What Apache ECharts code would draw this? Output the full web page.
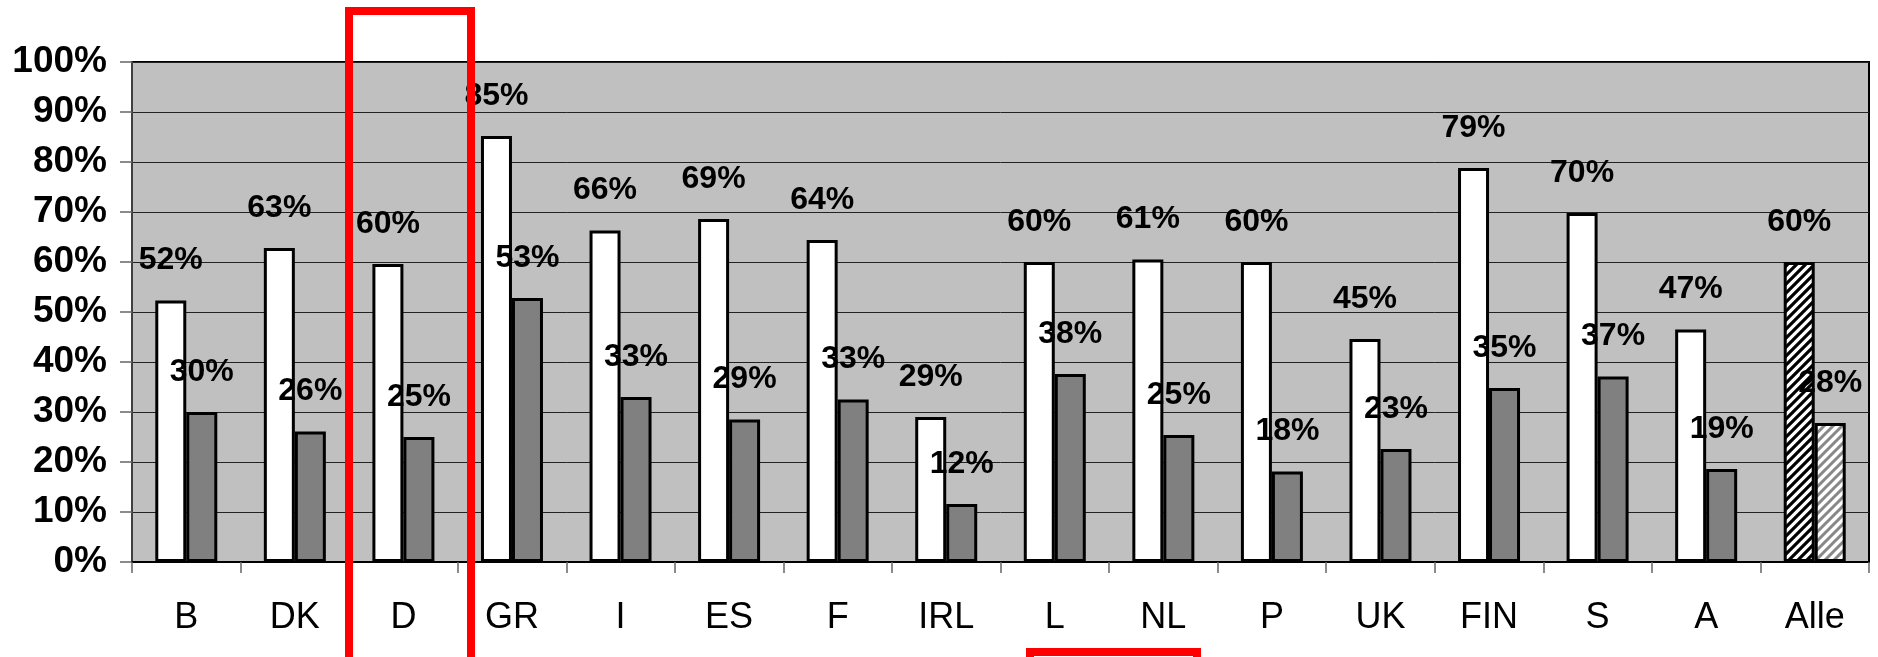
<!DOCTYPE html>
<html>
<head>
<meta charset="utf-8">
<script src="https://cdn.jsdelivr.net/npm/echarts@6/dist/echarts.min.js"></script>
<style>
html,body{margin:0;padding:0;background:#fff;}
#chart{width:1878px;height:657px;}
</style>
</head>
<body>
<div id="chart"></div>
<script>
// Data
var categories = ['B','DK','D','GR','I','ES','F','IRL','L','NL','P','UK','FIN','S','A','Alle'];
var seriesA = [52.3, 62.8, 59.6, 85.2, 66.3, 68.6, 64.4, 29.0, 60.0, 60.5, 60.0, 44.6, 78.8, 69.8, 46.5, 60.0];
var seriesB = [30.0, 26.1, 25.0, 52.8, 33.0, 28.5, 32.5, 11.6, 37.6, 25.4, 18.1, 22.6, 34.8, 37.1, 18.6, 27.8];
var yTicks = [0,10,20,30,40,50,60,70,80,90,100];

function hatch(color, bg, lw) {
  var c = document.createElement('canvas');
  var s = 9;
  c.width = s; c.height = s;
  var g = c.getContext('2d');
  g.fillStyle = bg; g.fillRect(0,0,s,s);
  g.strokeStyle = color; g.lineWidth = lw;
  g.beginPath();
  g.moveTo(-1, s+1); g.lineTo(s+1, -1);
  g.moveTo(-s/2-1, s/2+1); g.lineTo(s/2+1, -s/2-1);
  g.moveTo(s/2-1, s+s/2+1); g.lineTo(s+s/2+1, s/2-1);
  g.stroke();
  return {image: c, repeat: 'repeat'};
}
var hatchBlack = hatch('#000000', '#ffffff', 3.2);
var hatchGray = hatch('#888888', '#ffffff', 3);

var lastIdx = categories.length - 1;
var dataA = seriesA.map(function(v, i){
  return i === lastIdx ? {value: v, itemStyle: {color: hatchBlack}} : v;
});
var dataB = seriesB.map(function(v, i){
  return i === lastIdx ? {value: v, itemStyle: {color: hatchGray}} : v;
});

var FONT = '"Liberation Sans", Arial, sans-serif';
var labelCfg = {
  show: true, position: 'top', distance: 24,
  fontFamily: FONT, fontSize: 32, fontWeight: 'bold', color: '#000',
  formatter: function(p){ return Math.round(p.value) + '%'; }
};

var chart = echarts.init(document.getElementById('chart'), null, {renderer: 'canvas'});
chart.setOption({
  animation: false,
  backgroundColor: '#ffffff',
  grid: {
    left: 132, right: 9, top: 62, bottom: 95,
    show: true, backgroundColor: '#C0C0C0', borderColor: '#000', borderWidth: 2,
    containLabel: false
  },
  xAxis: {
    type: 'category',
    data: categories,
    axisLine: {lineStyle: {color: '#000', width: 2}},
    axisTick: {show: true, length: 11, lineStyle: {color: '#666', width: 1.5}},
    axisLabel: {fontFamily: FONT, fontSize: 36, color: '#000', margin: 38},
    boundaryGap: true
  },
  yAxis: {
    type: 'value', min: 0, max: 100, interval: 10,
    axisLine: {show: true, lineStyle: {color: '#555', width: 1.5}},
    axisTick: {show: true, length: 12, lineStyle: {color: '#666', width: 1.5}},
    axisLabel: {
      fontFamily: FONT, fontSize: 37, fontWeight: 'bold', color: '#000', margin: 25,
      formatter: function(v){ return yTicks.indexOf(v) >= 0 ? v + '%' : ''; }
    },
    splitLine: {show: true, lineStyle: {color: '#222', width: 1}}
  },
  series: [
    {
      type: 'bar', name: 'A', data: dataA, barWidth: 31, barGap: '0%',
      itemStyle: {color: '#ffffff', borderColor: '#000', borderWidth: 3},
      label: labelCfg
    },
    {
      type: 'bar', name: 'B', data: dataB, barWidth: 31, barGap: '0%',
      itemStyle: {color: '#808080', borderColor: '#000', borderWidth: 3},
      label: labelCfg
    }
  ],
  graphic: [
    {type: 'rect', z: 100, shape: {x: 349, y: 11, width: 122, height: 720},
     style: {fill: null, stroke: '#ff0000', lineWidth: 8}},
    {type: 'rect', z: 100, shape: {x: 1030, y: 652, width: 167, height: 60},
     style: {fill: null, stroke: '#ff0000', lineWidth: 8}}
  ]
});
</script>
</body>
</html>
